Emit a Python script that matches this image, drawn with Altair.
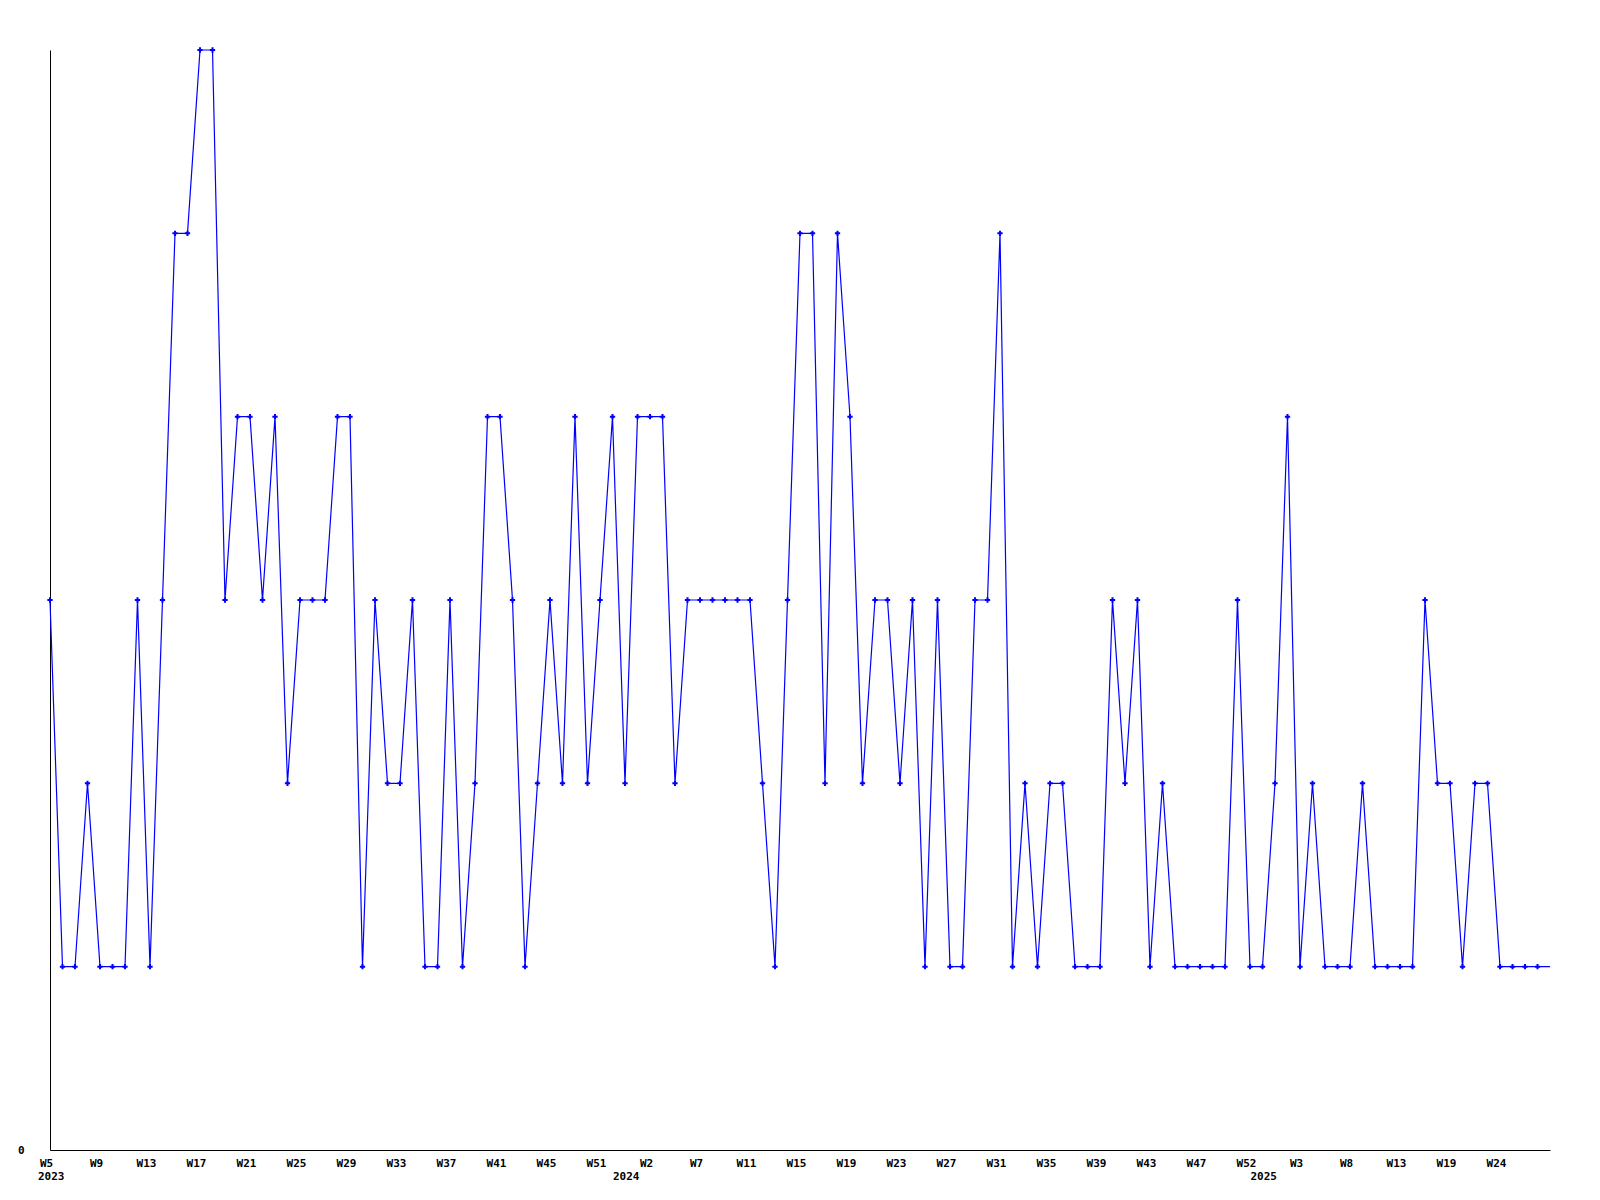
import json
import altair as alt
import pandas as pd

# Weekly values (2023 W5 .. 2025, last entry is the current, unmarked week)
values = [
    3, 1, 1, 2, 1, 1, 1, 3, 1, 3,
    5, 5, 6, 6, 3, 4, 4, 3, 4, 2,
    3, 3, 3, 4, 4, 1, 3, 2, 2, 3,
    1, 1, 3, 1, 2, 4, 4, 3, 1, 2,
    3, 2, 4, 2, 3, 4, 2, 4, 4, 4,
    2, 3, 3, 3, 3, 3, 3, 2, 1, 3,
    5, 5, 2, 5, 4, 2, 3, 3, 2, 3,
    1, 3, 1, 1, 3, 3, 5, 1, 2, 1,
    2, 2, 1, 1, 1, 3, 2, 3, 1, 2,
    1, 1, 1, 1, 1, 3, 1, 1, 2, 4,
    1, 2, 1, 1, 1, 2, 1, 1, 1, 1,
    3, 2, 2, 1, 2, 2, 1, 1, 1, 1,
    1,
]

# Week tick labels, one every 4th point
tick_labels = ["W5", "W9", "W13", "W17", "W21", "W25", "W29", "W33", "W37", "W41",
               "W45", "W51", "W2", "W7", "W11", "W15", "W19", "W23", "W27", "W31",
               "W35", "W39", "W43", "W47", "W52", "W3", "W8", "W13", "W19", "W24"]
tick_step = 4

# Year labels and the point index where each year starts
years = ["2023", "2024", "2025"]
year_start_index = [0, 46, 97]

n = len(values)
df = pd.DataFrame({"i": list(range(n)), "v": values})
df["marked"] = df["i"] < n - 1
ydf = pd.DataFrame({"i": year_start_index, "year": years})

FONT = "DejaVu Sans Mono"
W, H = 1500, 1100

label_expr = json.dumps(tick_labels) + "[round(datum.value/%d)]" % tick_step

x = alt.X(
    "i:Q",
    scale=alt.Scale(domain=[0, n - 1], nice=False, zero=False),
    axis=alt.Axis(
        values=list(range(0, len(tick_labels) * tick_step, tick_step)),
        labelExpr=label_expr,
        title=None, ticks=False, grid=False,
        domainColor="black", domainWidth=1,
        labelFont=FONT, labelFontWeight="bold", labelFontSize=11,
        labelColor="black", labelPadding=7, labelOffset=-4,
        labelFlush=False, labelOverlap=False,
    ),
)
y = alt.Y(
    "v:Q",
    scale=alt.Scale(domain=[0, max(values)], nice=False),
    axis=alt.Axis(
        values=[0], format="d",
        title=None, ticks=False, grid=False,
        domainColor="black", domainWidth=1,
        labelFont=FONT, labelFontWeight="bold", labelFontSize=11,
        labelColor="black", labelPadding=26,
    ),
)

line = alt.Chart(df).mark_line(color="#0000ff", strokeWidth=1.2).encode(x=x, y=y)
points = alt.Chart(df).transform_filter("datum.marked").mark_point(
    shape="M-1,0L1,0M0,-1L0,1", filled=False, color="#0000ff",
    size=28, strokeWidth=2, opacity=1,
).encode(x=x, y=y)

year_text = alt.Chart(ydf).mark_text(
    font=FONT, fontWeight="bold", fontSize=11, color="black",
    align="left", baseline="top", dx=-12,
).encode(
    x=alt.X("i:Q"),
    y=alt.value(H + 21),
    text="year:N",
)

chart = alt.layer(line, points, year_text).properties(
    width=W, height=H,
    autosize="none",
    padding={"left": 42, "top": 42, "right": 42, "bottom": 50},
    background="white",
).configure_view(stroke=None)

chart.save("out.html", embed_options={"renderer": "svg", "actions": False})
